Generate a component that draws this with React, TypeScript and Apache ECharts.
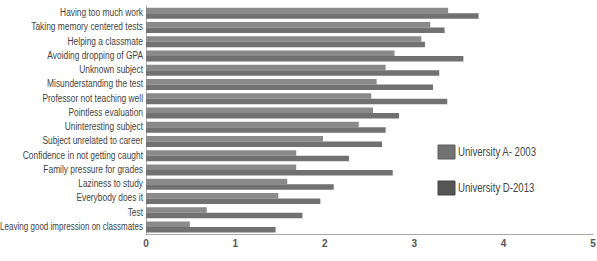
import React, { useEffect, useRef } from "react";
import * as echarts from "echarts";

const categories = [
  "Having too much work",
  "Taking memory centered tests",
  "Helping a classmate",
  "Avoiding dropping of GPA",
  "Unknown subject",
  "Misunderstanding the test",
  "Professor not teaching well",
  "Pointless evaluation",
  "Uninteresting subject",
  "Subject unrelated to career",
  "Confidence in not getting caught",
  "Family pressure for grades",
  "Laziness to study",
  "Everybody does it",
  "Test",
  "Leaving good impression on classmates",
];

const uniA2003 = [3.38, 3.18, 3.08, 2.78, 2.68, 2.58, 2.52, 2.54, 2.38, 1.98, 1.68, 1.68, 1.58, 1.48, 0.68, 0.49];
const uniD2013 = [3.72, 3.34, 3.12, 3.55, 3.28, 3.21, 3.37, 2.83, 2.68, 2.64, 2.27, 2.76, 2.1, 1.95, 1.75, 1.45];

const seriesNames = ["University A- 2003", "University D-2013"];
const xTicks = [0, 1, 2, 3, 4, 5];

const FONT = "'Liberation Sans', Arial, sans-serif";

export default function App() {
  const ref = useRef<HTMLDivElement>(null);
  useEffect(() => {
    const chart = echarts.init(ref.current!, null, { renderer: "svg" });
    chart.setOption({
      animation: false,
      grid: { left: 146, right: 4, top: 6, bottom: 27, outerBoundsMode: "none", containLabel: false },
      xAxis: {
        type: "value",
        min: 0,
        max: 5,
        interval: 1,
        axisLine: { show: true, lineStyle: { color: "#a8a8a8", width: 1 } },
        axisTick: { show: false },
        splitLine: { show: false },
        axisLabel: {
          fontFamily: FONT,
          fontWeight: "bold",
          fontSize: 10,
          color: "#555",
          margin: 4,
          formatter: (v: number) => (xTicks.includes(v) ? String(v) : ""),
        },
      },
      yAxis: {
        type: "category",
        data: categories,
        inverse: true,
        axisLine: { show: true, lineStyle: { color: "#b0b0b0", width: 1 } },
        axisTick: { show: false },
        axisLabel: { show: false },
      },
      series: [
        {
          name: seriesNames[0],
          type: "bar",
          data: uniA2003,
          barWidth: 5.5,
          barGap: "0%",
          itemStyle: { color: "#8a8a8a" },
        },
        {
          name: seriesNames[1],
          type: "bar",
          data: uniD2013,
          barWidth: 5.5,
          barGap: "0%",
          itemStyle: { color: "#717171" },
        },
      ],
    });

    const xLeft = chart.convertToPixel({ xAxisIndex: 0 }, 0) as number;
    const labelEls = categories.map((c, i) => {
      const y = chart.convertToPixel({ yAxisIndex: 0 }, c) as number;
      const isLast = i === categories.length - 1;
      return {
        type: "text",
        x: xLeft - 3,
        y: y - 1,
        scaleX: isLast ? 0.7 : 0.73,
        silent: true,
        style: {
          text: c,
          fontFamily: FONT,
          fontSize: 11.5,
          fill: "#444",
          align: "right",
          verticalAlign: "middle",
        },
      };
    });

    const legendColors = ["#727272", "#555555"];
    const legendBorders = ["#5c5c5c", "#444444"];
    const legendEls: any[] = [];
    seriesNames.forEach((n, i) => {
      const top = 145 + i * 36;
      legendEls.push({
        type: "rect",
        shape: { x: 438, y: top, width: 17, height: 14 },
        style: { fill: legendColors[i], stroke: legendBorders[i], lineWidth: 1 },
        silent: true,
      });
      legendEls.push({
        type: "text",
        x: 458,
        y: top + 7,
        scaleX: 0.77,
        silent: true,
        style: {
          text: n,
          fontFamily: FONT,
          fontSize: 12.5,
          fill: "#444",
          align: "left",
          verticalAlign: "middle",
        },
      });
    });

    chart.setOption({ graphic: [...labelEls, ...legendEls] });
    return () => chart.dispose();
  }, []);
  return <div ref={ref} style={{ width: 597, height: 261, position: "absolute", left: 0, top: 0 }} />;
}
